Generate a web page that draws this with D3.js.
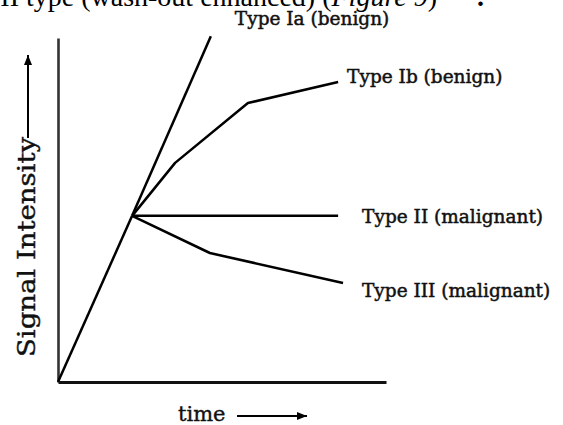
<!DOCTYPE html>
<html>
<head>
<meta charset="utf-8">
<script src="https://cdn.jsdelivr.net/npm/d3@7"></script>
<style>
  body { margin: 0; background: #fff; }
  svg { display: block; }
</style>
</head>
<body>
<div id="chart"></div>
<script>
// time and signal in arbitrary units (0-100 on both axes)
const upslope = [{ t: 0, s: 0 }, { t: 22.6, s: 48.3 }];
const typeIa  = [{ t: 22.6, s: 48.3 }, { t: 46.6, s: 100.5 }];
const typeIb  = [{ t: 22.6, s: 48.3 }, { t: 35.7, s: 63.7 }, { t: 57.9, s: 81.1 }, { t: 85.4, s: 87.2 }];
const typeII  = [{ t: 22.6, s: 48.3 }, { t: 85.4, s: 48.3 }];
const typeIII = [{ t: 22.6, s: 48.3 }, { t: 46.3, s: 37.5 }, { t: 86.9, s: 28.8 }];
const curveNames = ["Type Ia (benign)", "Type Ib (benign)", "Type II (malignant)", "Type III (malignant)"];
const xTitle = "time";
const yTitle = "Signal Intensity";

const width = 563, height = 425;
const margin = { top: 38, right: 177, bottom: 43, left: 58 };

const svg = d3.select("#chart").append("svg")
  .attr("width", width)
  .attr("height", height);

const x = d3.scaleLinear().domain([0, 100]).range([margin.left, width - margin.right]);
const y = d3.scaleLinear().domain([0, 100]).range([height - margin.bottom, margin.top]);

const serif = "'DejaVu Serif', serif";

// cropped line of body text above the figure
const caption = svg.append("text")
  .attr("x", 437).attr("y", 6)
  .attr("text-anchor", "end")
  .attr("font-family", "'Liberation Serif', serif")
  .attr("font-size", 28);
caption.append("tspan").text("III type (wash-out enhanced) (");
caption.append("tspan").attr("font-style", "italic").text("Figure 9");
caption.append("tspan").text(")");
svg.append("text")
  .attr("x", 477).attr("y", 6)
  .attr("font-family", "'Liberation Serif', serif")
  .attr("font-size", 28)
  .attr("font-weight", "bold")
  .text(".");

// axes: plain lines, no ticks
const xAxis = svg.append("g")
  .attr("transform", `translate(0,${y(0)})`)
  .call(d3.axisBottom(x).ticks(0).tickSizeOuter(0));
const yAxis = svg.append("g")
  .attr("transform", `translate(${x(0)},0)`)
  .call(d3.axisLeft(y).ticks(0).tickSizeOuter(0));
xAxis.select(".domain").attr("stroke", "#111").attr("stroke-width", 3.2);
yAxis.select(".domain").attr("stroke", "#333").attr("stroke-width", 2.6);

// curves
const line = d3.line().x(d => x(d.t)).y(d => y(d.s));
const series = [typeIa, typeIb, typeII, typeIII];

svg.append("path")
  .datum(upslope)
  .attr("fill", "none")
  .attr("stroke", "#000")
  .attr("stroke-width", 2.5)
  .attr("d", line);

series.forEach(pts => {
  svg.append("path")
    .datum(pts)
    .attr("fill", "none")
    .attr("stroke", "#000")
    .attr("stroke-width", 2.5)
    .attr("stroke-linejoin", "round")
    .attr("d", line);
});

// labels, offset from the end of each curve
const labelOffset = [[24, -11], [9, 1], [24, 7], [19, 14]];
series.forEach((pts, i) => {
  const end = pts[pts.length - 1];
  svg.append("text")
    .attr("x", x(end.t) + labelOffset[i][0])
    .attr("y", y(end.s) + labelOffset[i][1])
    .attr("font-family", serif)
    .attr("font-size", 18.5)
    .attr("fill", "#111")
    .attr("stroke", "#111")
    .attr("stroke-width", 0.5)
    .text(curveNames[i]);
});

// arrowhead
svg.append("defs").append("marker")
  .attr("id", "arrow")
  .attr("markerUnits", "userSpaceOnUse")
  .attr("markerWidth", 12).attr("markerHeight", 10)
  .attr("refX", 10).attr("refY", 4)
  .attr("orient", "auto")
  .append("path")
  .attr("d", "M0,0L10,4L0,8Z")
  .attr("fill", "#000");

// y title with arrow
svg.append("text")
  .attr("transform", "translate(35,357) rotate(-90)")
  .attr("font-family", serif)
  .attr("font-size", 24)
  .attr("textLength", 220)
  .attr("lengthAdjust", "spacingAndGlyphs")
  .attr("fill", "#111")
  .attr("stroke", "#111")
  .attr("stroke-width", 0.4)
  .text(yTitle);
svg.append("line")
  .attr("x1", 28).attr("y1", 138)
  .attr("x2", 28).attr("y2", 55)
  .attr("stroke", "#000").attr("stroke-width", 2)
  .attr("marker-end", "url(#arrow)");

// x title with arrow
svg.append("text")
  .attr("x", 178).attr("y", 421)
  .attr("font-family", serif)
  .attr("font-size", 21)
  .attr("fill", "#111")
  .attr("stroke", "#111")
  .attr("stroke-width", 0.4)
  .text(xTitle);
svg.append("line")
  .attr("x1", 237).attr("y1", 416)
  .attr("x2", 307).attr("y2", 416)
  .attr("stroke", "#000").attr("stroke-width", 2)
  .attr("marker-end", "url(#arrow)");
</script>
</body>
</html>
